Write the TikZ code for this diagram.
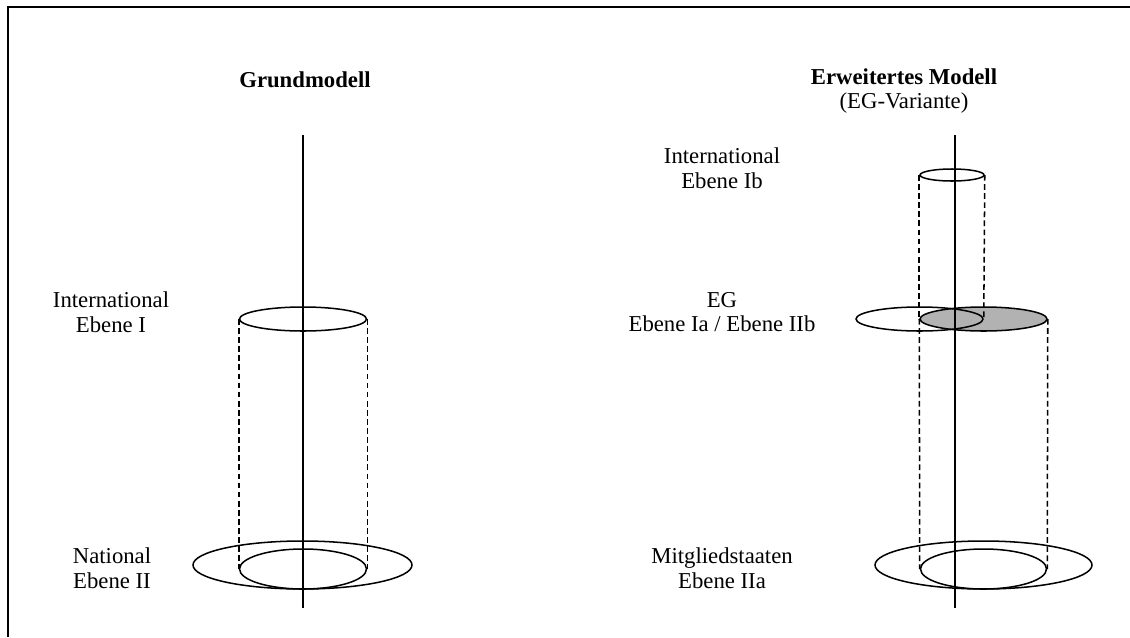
\documentclass[tikz,border=0pt]{standalone}
\usepackage{fontspec}
\setmainfont{Liberation Serif}
\usetikzlibrary{
    shapes.geometric,   % ellipse
    positioning
}
\newcommand{\pxu}{0.528pt}
\tikzset{
    ring/.style={
        ellipse,
        draw,
        line width=0.8pt,
        inner sep=0pt
    },
    grauring/.style={
        ring,
        fill=black!30
    },
    achse/.style={
        line width=0.8pt
    },
    kante/.style={
        dash pattern=on 3pt off 1.8pt,
        line width=0.8pt
    },
    beschrift/.style={
        align=center,
        inner sep=0pt,
        font=\fontsize{12}{13}\selectfont
    },
    titel/.style={
        beschrift,
        font=\fontsize{12}{13}\selectfont\bfseries
    }
}

\begin{document}
\begin{tikzpicture}[x=\pxu, y=-\pxu]
        \useasboundingbox (0,0) rectangle (1130,637);
        % Rahmen (rechts und unten abgeschnitten)
        \draw [line width=0.8pt] (8,637) -- (8,7) -- (1130,7);

        % Grundmodell
        \node [titel] (titelL) at (305,80) {Grundmodell};
        \coordinate (achseL-oben) at (303,135);
        \coordinate (achseL-unten) at (303,608);

        % Ebene I
        \node [ring, minimum width=127*\pxu, minimum height=24*\pxu] (ebeneI) at (303,319) {};
        % Ebene II
        \node [ring, minimum width=219*\pxu, minimum height=48*\pxu] (ebeneII-gross) at (302.5,565) {};
        \node [ring, minimum width=127*\pxu, minimum height=40*\pxu] (ebeneII) at (303,569) {};

        \draw [kante] (ebeneI.west) -- (ebeneII.west);
        \draw [kante] (ebeneI.east) -- (ebeneII.east);
        \draw [achse] (achseL-oben) -- (achseL-unten);

        \node [beschrift] (textI) at (111,312) {International\\Ebene I};
        \node [beschrift] (textII) at (112,568) {National\\Ebene II};

        % Erweitertes Modell
        \node [titel] (titelR) at (904,91) {Erweitertes Modell\\\mdseries(EG-Variante)};
        \coordinate (achseR-oben) at (955,135);
        \coordinate (achseR-unten) at (955,608);

        % Ebene Ib
        \node [ring, minimum width=64*\pxu, minimum height=12*\pxu] (ebeneIb) at (952,175) {};
        % EG: Ebene Ia / Ebene IIb
        \node [grauring, minimum width=127*\pxu, minimum height=24*\pxu] (ebeneIIb) at (983.5,319) {};
        \node [ring, minimum width=127*\pxu, minimum height=24*\pxu] (ebeneIa) at (919.5,319) {};
        % Mitgliedstaaten: Ebene IIa
        \node [ring, minimum width=217*\pxu, minimum height=48*\pxu] (ebeneIIa-gross) at (983.5,565) {};
        \node [ring, minimum width=126*\pxu, minimum height=40*\pxu] (ebeneIIa) at (983.5,569) {};

        \draw [kante] (ebeneIb.west) -- (ebeneIIb.west);
        \draw [kante] (ebeneIb.east) -- (ebeneIa.east);
        \draw [kante] (ebeneIIb.west) -- (ebeneIIa.west);
        \draw [kante] (ebeneIIb.east) -- (ebeneIIa.east);
        \draw [achse] (achseR-oben) -- (achseR-unten);

        \node [beschrift] (textIb) at (722,168) {International\\Ebene Ib};
        \node [beschrift] (textEG) at (722,312) {EG\\Ebene Ia / Ebene IIb};
        \node [beschrift] (textIIa) at (722,568) {Mitgliedstaaten\\Ebene IIa};
    \end{tikzpicture}
\end{document}
